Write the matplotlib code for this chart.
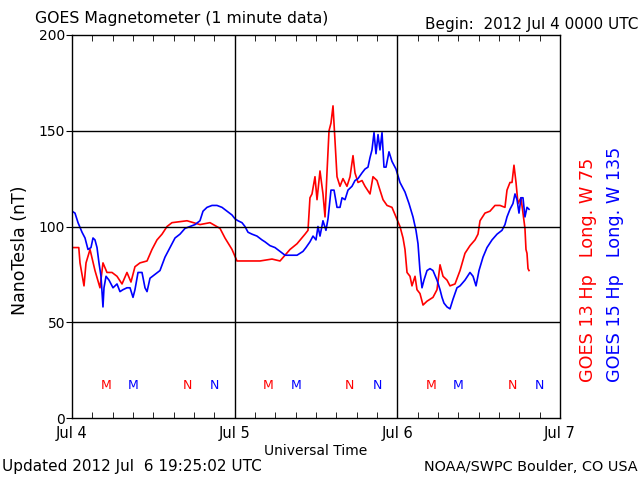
import numpy as np
import matplotlib
matplotlib.use("Agg")
import matplotlib.pyplot as plt

# hours since 2012 Jul 4 0000 UTC, field in nT
g13_hours = [0, 1.0, 1.18, 1.77, 2.07, 2.66, 3.39, 4.13, 4.57, 5.16, 5.90, 6.64, 7.38, 8.11, 8.70,
             9.29, 10.03, 11.07, 11.80, 12.54, 13.28, 14.02, 14.75, 16.97, 18.88, 20.36, 21.84,
             22.57, 23.61, 24.34, 25.52, 27.74, 29.51, 30.69, 32.16, 33.20, 34.38, 34.82, 35.11,
             35.41, 35.85, 36.15, 36.59, 37.03, 37.33, 37.62, 37.92, 38.21, 38.51, 38.80, 39.10,
             39.54, 39.98, 40.57, 41.02, 41.46, 41.75, 42.20, 42.79, 43.23, 43.97, 44.41, 45.00,
             45.44, 45.89, 46.48, 47.21, 47.80, 48.39, 48.84, 49.13, 49.43, 49.87, 50.16, 50.61,
             50.90, 51.34, 51.79, 52.38, 52.82, 53.26, 53.85, 54.30, 54.74, 55.33, 55.77, 56.51,
             57.25, 57.98, 58.72, 59.46, 59.90, 60.20, 60.93, 61.67, 62.41, 63.15, 63.88, 64.18,
             64.62, 64.92, 65.21, 65.51, 65.80, 66.24, 66.54, 66.83, 66.98, 67.13, 67.28, 67.43]
g13_nt = [89, 89, 81, 69, 81, 88, 77, 68, 81, 76, 76, 74, 70, 76, 71,
          79, 81, 82, 88, 93, 96, 100, 102, 103, 101, 102, 99,
          94, 88, 82, 82, 82, 83, 82, 88, 91, 96, 98, 115,
          117, 126, 114, 129, 117, 105, 128, 150, 154, 163, 145, 126,
          121, 125, 121, 126, 137, 128, 123, 124, 121, 117, 126, 124,
          119, 114, 111, 110, 105, 100, 94, 88, 76, 74, 69, 74,
          67, 65, 59, 61, 62, 63, 67, 80, 74, 72, 69, 70,
          77, 86, 90, 93, 96, 103, 107, 108, 111, 111, 110, 119,
          123, 123, 132, 123, 112, 115, 107, 99, 88, 86, 78, 77]

g15_hours = [0, 0.44, 0.89, 1.48, 1.92, 2.36, 2.80, 3.10, 3.39, 3.69, 3.98, 4.28, 4.57, 4.72, 5.02,
             5.46, 6.05, 6.64, 7.08, 7.52, 8.11, 8.56, 9.00, 9.29, 9.74, 10.33, 10.77, 11.07,
             11.51, 12.25, 12.98, 13.72, 14.46, 15.20, 15.93, 16.67, 17.41, 18.15, 18.88, 19.33,
             19.92, 20.66, 21.39, 22.13, 22.87, 23.61, 24.05, 24.49, 25.08, 25.52, 25.97, 26.56,
             27.29, 28.03, 28.47, 29.21, 29.95, 30.69, 31.43, 32.16, 33.20, 34.08, 34.52, 35.11,
             35.56, 36.00, 36.29, 36.59, 37.03, 37.47, 37.77, 38.21, 38.66, 39.10, 39.54, 39.84,
             40.28, 40.72, 41.31, 41.75, 42.20, 42.79, 43.23, 43.67, 43.97, 44.26, 44.56, 44.85,
             45.15, 45.44, 45.74, 46.03, 46.33, 46.77, 47.21, 47.80, 48.39, 49.13, 49.72, 50.31,
             50.75, 51.05, 51.34, 51.64, 51.93, 52.38, 52.82, 53.26, 53.85, 54.30, 54.59, 54.88,
             55.33, 55.77, 56.21, 56.80, 57.25, 57.98, 58.72, 59.17, 59.61, 60.05, 60.64, 61.23,
             61.97, 62.71, 63.44, 63.88, 64.18, 64.62, 65.06, 65.36, 65.66, 65.95, 66.24, 66.54,
             66.83, 67.13, 67.43]
g15_nt = [108, 107, 102, 97, 94, 88, 89, 94, 93, 89, 81, 74, 58, 68, 74,
          72, 68, 70, 66, 67, 68, 68, 63, 67, 76, 76, 68, 66,
          73, 75, 77, 84, 89, 94, 96, 99, 100, 101, 103, 108,
          110, 111, 111, 110, 108, 106, 104, 103, 102, 100, 97, 96,
          95, 93, 92, 90, 89, 87, 85, 85, 85, 87, 89, 92,
          95, 93, 100, 95, 103, 98, 104, 119, 119, 110, 110, 115,
          114, 119, 121, 124, 125, 128, 130, 131, 136, 140, 149, 138,
          148, 140, 149, 131, 131, 139, 134, 130, 123, 118, 112, 105,
          98, 91, 77, 68, 72, 77, 78, 77, 72, 67, 63, 60,
          58, 57, 62, 68, 69, 72, 76, 74, 69, 77, 84, 89,
          93, 96, 98, 101, 105, 109, 112, 117, 114, 107, 115, 115,
          105, 110, 109]

# local midnight (M) and noon (N) markers, hours UT
m13 = [5, 29, 53]
m15 = [9, 33, 57]
n13 = [17, 41, 65]
n15 = [21, 45, 69]
marker_y = 17

day_ticks = [0, 24, 48, 72]
day_labels = ["Jul 4", "Jul 5", "Jul 6", "Jul 7"]

red = "#ff0000"
blue = "#0000ff"

fig = plt.figure(figsize=(6.4, 4.8), dpi=100)
ax = fig.add_axes([72/640, 62/480, 488/640, 383/480])

ax.plot(g13_hours, g13_nt, color=red, lw=1.2)
ax.plot(g15_hours, g15_nt, color=blue, lw=1.2)

for h in m13:
    ax.text(h, marker_y, "M", color=red, ha="center", va="center", fontsize=9)
for h in m15:
    ax.text(h, marker_y, "M", color=blue, ha="center", va="center", fontsize=9)
for h in n13:
    ax.text(h, marker_y, "N", color=red, ha="center", va="center", fontsize=9)
for h in n15:
    ax.text(h, marker_y, "N", color=blue, ha="center", va="center", fontsize=9)

ax.set_xlim(0, 72)
ax.set_ylim(0, 200)
ax.set_xticks(day_ticks)
ax.set_xticklabels(day_labels, fontsize=10.5)
ax.set_xticks(np.arange(0, 73, 3), minor=True)
ax.set_yticks([0, 50, 100, 150, 200])
ax.tick_params(axis="y", labelsize=10, length=4, direction="out", pad=1)
ax.tick_params(axis="x", which="major", length=0, pad=6)
ax.tick_params(axis="x", which="minor", direction="in", length=4, top=True, bottom=True)
for v in [50, 100, 150]:
    ax.axhline(v, color="black", lw=1)
for h in [24, 48]:
    ax.axvline(h, color="black", lw=1)
for s in ax.spines.values():
    s.set_linewidth(1)

ax.set_xlabel("Universal Time", fontsize=10, labelpad=2)
fig.text(20/640, 1 - 250/480, "NanoTesla (nT)", fontsize=12.5, rotation=90, ha="center", va="center")

fig.text(35/640, 1 - 18/480, "GOES Magnetometer (1 minute data)", fontsize=11.3, va="center", ha="left")
fig.text(638/640, 1 - 24/480, "Begin:  2012 Jul 4 0000 UTC", fontsize=11, va="center", ha="right")
fig.text(2/640, 1 - 467/480, "Updated 2012 Jul  6 19:25:02 UTC", fontsize=11, va="center", ha="left")
fig.text(638/640, 1 - 467/480, "NOAA/SWPC Boulder, CO USA", fontsize=10.4, va="center", ha="right")
fig.text(588/640, 1 - 382/480, "GOES 13 Hp   Long. W 75", color=red, fontsize=12.7,
         rotation=90, ha="center", va="bottom")
fig.text(615/640, 1 - 382/480, "GOES 15 Hp   Long. W 135", color=blue, fontsize=12.7,
         rotation=90, ha="center", va="bottom")

fig.savefig("out.png", dpi=100)
